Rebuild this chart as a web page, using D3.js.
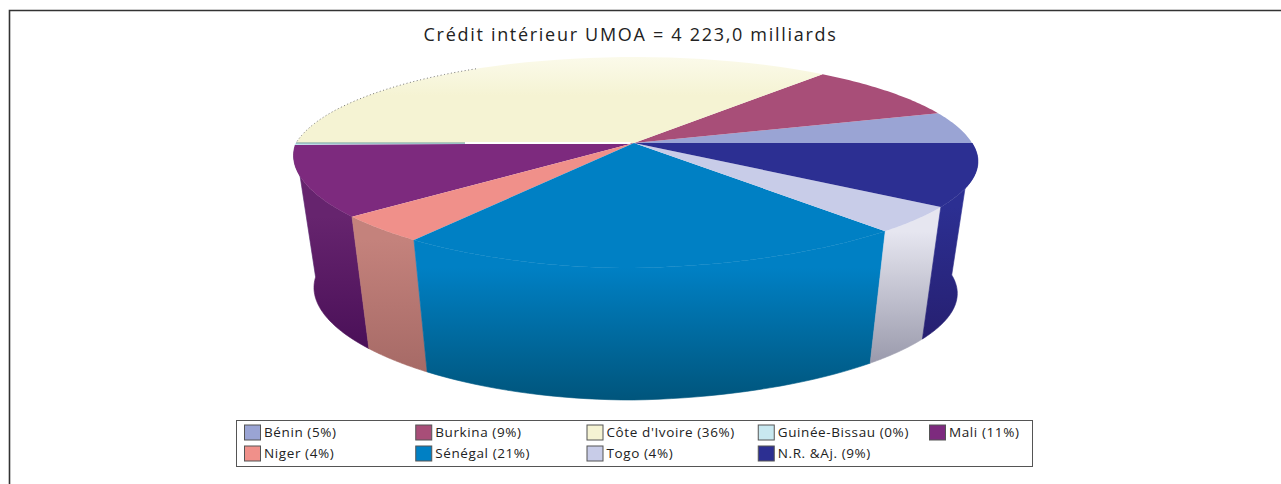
<!DOCTYPE html>
<html><head><meta charset="utf-8">
<script src="https://cdn.jsdelivr.net/npm/d3@7"></script>
<style>html,body{margin:0;background:#fff}svg{display:block}text{font-family:"Open Sans","Noto Sans",sans-serif;fill:#222}</style>
</head><body><div id="c"></div>
<script>
const categories=["Bénin","Burkina","Côte d'Ivoire","Guinée-Bissau","Mali","Niger","Sénégal","Togo","N.R. &Aj."];
const shares=[5,9,36,0.3,10.7,4,21,4,10];
const legendPct=[5,9,36,0,11,4,21,4,9];
const topColors=["#9aa4d4","#a84e78","#f5f3d3","#c8e8f0","#7d2a7e","#f0908a","#0080c4","#c8cce8","#2c2f92"];
const wallTop=["#9aa4d4","#a84e78","#f5f3d3","#c8e8f0","#66246e","#c4827c","#0080c4","#e6e6f0","#2c2f92"];
const wallBottom=["#9aa4d4","#a84e78","#f5f3d3","#c8e8f0","#4a1058","#a66a66","#00557c","#9a9aac","#261f70"];
const title="Crédit intérieur UMOA = 4 223,0 milliards";

const W=1281,H=484;
const svg=d3.select("#c").append("svg").attr("width",W).attr("height",H);
const defs=svg.append("defs");

svg.append("path").attr("d","M9.5,484V10.5H1281").attr("fill","none").attr("stroke","#333").attr("stroke-width",1.6);

svg.append("text").attr("x",630.5).attr("y",41).attr("text-anchor","middle")
  .attr("font-size",18).attr("letter-spacing",1.7).text(title);

// perspective projection of the pie's unit circle
const cx=634,cy=143,R=338,K=101.9,P=0.185,PxFrontLeft=0.12,KRightTrim=6,wallDrop=132,wallScale=0.94;
const proj=(t,r=1)=>{
  const sn=Math.sin(t),cs=Math.cos(t);
  const px=(sn<0&&cs<0)?PxFrontLeft:P;
  const k=sn<0?K-KRightTrim*Math.max(0,cs):K;
  return [cx+R*r*cs/(1+px*r*sn),cy-k*r*sn/(1+P*r*sn)];
};
const lower=t=>{const [x,y]=proj(t);return [cx+(x-cx)*wallScale,y+wallDrop];};
const line=d3.line();
const samples=(a,b)=>d3.range(0,41).map(i=>a+(b-a)*i/40);

const pie=d3.pie().sort(null).startAngle(0).endAngle(2*Math.PI);
const arcs=pie(shares).map((d,i)=>({i,a:d.startAngle,b:d.endAngle}));

// walls (front half only)
const gWalls=svg.append("g");
arcs.forEach(d=>{
  const a=Math.max(d.a,Math.PI),b=d.b;
  if(b<=a) return;
  const id="w"+d.i;
  const ts=samples(a,b);
  const upper=ts.map(t=>proj(t)),low=ts.map(lower);
  const lg=defs.append("linearGradient").attr("id",id).attr("gradientUnits","userSpaceOnUse")
    .attr("x1",0).attr("x2",0).attr("y1",d3.max(upper,p=>p[1])).attr("y2",d3.max(low,p=>p[1]));
  lg.append("stop").attr("offset",0).attr("stop-color",wallTop[d.i]);
  lg.append("stop").attr("offset",1).attr("stop-color",wallBottom[d.i]);
  const pts=upper.concat(low.reverse());
  gWalls.append("path").attr("d",line(pts)+"Z").attr("fill",`url(#${id})`).attr("stroke",`url(#${id})`).attr("stroke-width",0.6);
});

// top face
const coteFade=defs.append("linearGradient").attr("id","coteFade").attr("x1",0).attr("y1",0).attr("x2",0).attr("y2",1);
coteFade.append("stop").attr("offset",0).attr("stop-color","#fbfaea");
coteFade.append("stop").attr("offset",0.45).attr("stop-color",topColors[2]);
const gTop=svg.append("g");
arcs.forEach(d=>{
  const pts=[[cx,cy]].concat(samples(d.a,d.b).map(t=>proj(t)));
  gTop.append("path").attr("d",line(pts)+"Z").attr("fill",d.i===2?"url(#coteFade)":topColors[d.i]);
});
// dotted rim on the back-left of the large slice, and the thin seam at the left
const cote=arcs[2],guinee=arcs[3];
gTop.append("path").attr("d",line(samples(cote.b-1.0,cote.b).map(t=>proj(t))))
  .attr("fill","none").attr("stroke","#777").attr("stroke-width",1).attr("stroke-dasharray","1 2.5");
gTop.append("path").attr("d",line([proj(guinee.a,0.01),proj(guinee.a,0.5)])).attr("stroke","#fff").attr("stroke-width",2).attr("fill","none");
gTop.append("path").attr("d",line([proj(guinee.a,0.5),proj(guinee.a,1)])).attr("stroke","#6f9a9c").attr("stroke-width",1).attr("fill","none");

// legend
const legendX=d3.scalePoint().domain([0,1,2,3,4]).range([244,929]);
const legendY=d3.scalePoint().domain([0,1]).range([432.5,453.5]);
svg.append("rect").attr("x",236.5).attr("y",420.5).attr("width",796).attr("height",46).attr("fill","#fff").attr("stroke","#555");
const lg=svg.append("g").selectAll("g").data(categories).join("g")
  .attr("transform",(d,i)=>`translate(${legendX(i%5)},${legendY(Math.floor(i/5))})`);
lg.append("rect").attr("x",0.5).attr("y",-7.5).attr("width",16).attr("height",15)
  .attr("fill",(d,i)=>topColors[i]).attr("stroke","#555");
lg.append("text").attr("x",20).attr("y",4).attr("font-size",13.5).attr("letter-spacing",0.6)
  .text((d,i)=>`${d} (${legendPct[i]}%)`);
</script></body></html>
